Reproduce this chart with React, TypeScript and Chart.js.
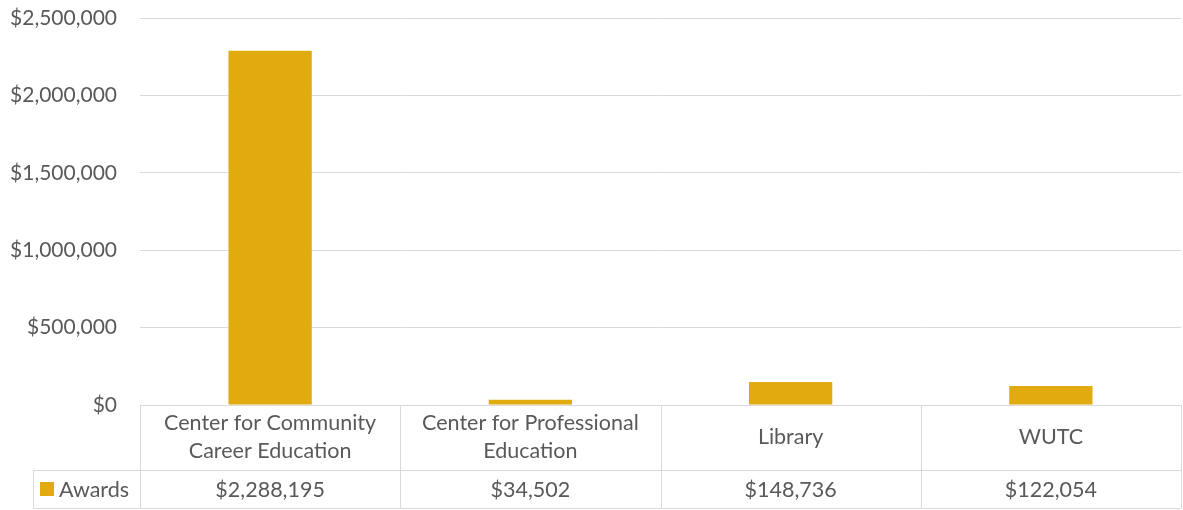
import React, { useEffect, useRef } from "react";
import { Chart, registerables } from "chart.js";

Chart.register(...registerables);

const categories: string[][] = [
  ["Center for Community", "Career Education"],
  ["Center for Professional", "Education"],
  ["Library"],
  ["WUTC"],
];
const seriesName = "Awards";
const awards = [2288195, 34502, 148736, 122054];
const yMin = 0;
const yMax = 2500000;
const yStep = 500000;

const FONT = "Lato, 'Open Sans', sans-serif";
const TEXT = "#595959";
const GRID = "#D9D9D9";
const BAR = "#E1AA0F";

const money = (v: number) => "$" + Number(v).toLocaleString("en-US");

const dataTablePlugin = {
  id: "dataTable",
  afterDraw(chart: any) {
    const { ctx, chartArea, scales } = chart;
    const x = scales.x;
    const n = categories.length;
    const left = chartArea.left;
    const right = chartArea.right;
    const top = chartArea.bottom;
    const split = top + 65;
    const bottom = top + 103;
    const legendLeft = 33;
    const colW = (right - left) / n;
    const px = (v: number) => Math.round(v) + 0.5;

    ctx.save();
    ctx.strokeStyle = GRID;
    ctx.lineWidth = 1;
    ctx.beginPath();
    ctx.moveTo(legendLeft, px(split));
    ctx.lineTo(right, px(split));
    ctx.moveTo(legendLeft, px(bottom));
    ctx.lineTo(right, px(bottom));
    for (let i = 0; i <= n; i++) {
      const xx = px(left + i * colW);
      ctx.moveTo(xx, top);
      ctx.lineTo(xx, bottom);
    }
    ctx.moveTo(px(legendLeft), split);
    ctx.lineTo(px(legendLeft), bottom);
    ctx.stroke();

    ctx.fillStyle = TEXT;
    ctx.font = `21.5px ${FONT}`;
    ctx.textAlign = "center";
    ctx.textBaseline = "middle";
    const lineH = 28;
    categories.forEach((lines, i) => {
      const cx = x.getPixelForValue(i);
      const mid = (top + split) / 2;
      const start = mid - ((lines.length - 1) * lineH) / 2;
      lines.forEach((l, j) => ctx.fillText(l, cx, start + j * lineH));
      ctx.fillText(money(awards[i]), cx, (split + bottom) / 2 + 1);
    });

    const rowMid = (split + bottom) / 2;
    ctx.fillStyle = BAR;
    ctx.fillRect(40, Math.round(rowMid - 7), 14, 14);
    ctx.fillStyle = TEXT;
    ctx.textAlign = "left";
    ctx.fillText(seriesName, 59, rowMid + 1);
    ctx.restore();
  },
};

export default function App() {
  const ref = useRef<HTMLCanvasElement>(null);
  useEffect(() => {
    if (!ref.current) return;
    const chart = new Chart(ref.current, {
      type: "bar",
      data: {
        labels: categories.map((c) => c.join(" ")),
        datasets: [
          {
            label: seriesName,
            data: awards,
            backgroundColor: BAR,
            borderWidth: 0,
            categoryPercentage: 1,
            barPercentage: 0.32,
          },
        ],
      },
      options: {
        animation: false,
        responsive: false,
        maintainAspectRatio: false,
        layout: { padding: { top: 18, bottom: 105, left: 0, right: 2 } },
        plugins: { legend: { display: false }, tooltip: { enabled: false } },
        scales: {
          x: { display: false },
          y: {
            min: yMin,
            max: yMax,
            afterFit: (s: any) => {
              s.width = 140;
              s.paddingTop = 0;
              s.paddingBottom = 0;
            },
            border: { display: false },
            grid: { color: GRID, lineWidth: 1, drawTicks: false },
            ticks: {
              stepSize: yStep,
              padding: 23,
              color: TEXT,
              font: { family: FONT, size: 21 },
              callback: (v: any) => money(v),
            },
          },
        },
      },
      plugins: [dataTablePlugin],
    });
    return () => chart.destroy();
  }, []);
  return (
    <div style={{ position: "fixed", left: 0, top: 0, width: 1183, height: 510, background: "#fff" }}>
      <canvas ref={ref} width={1183} height={510} />
    </div>
  );
}
